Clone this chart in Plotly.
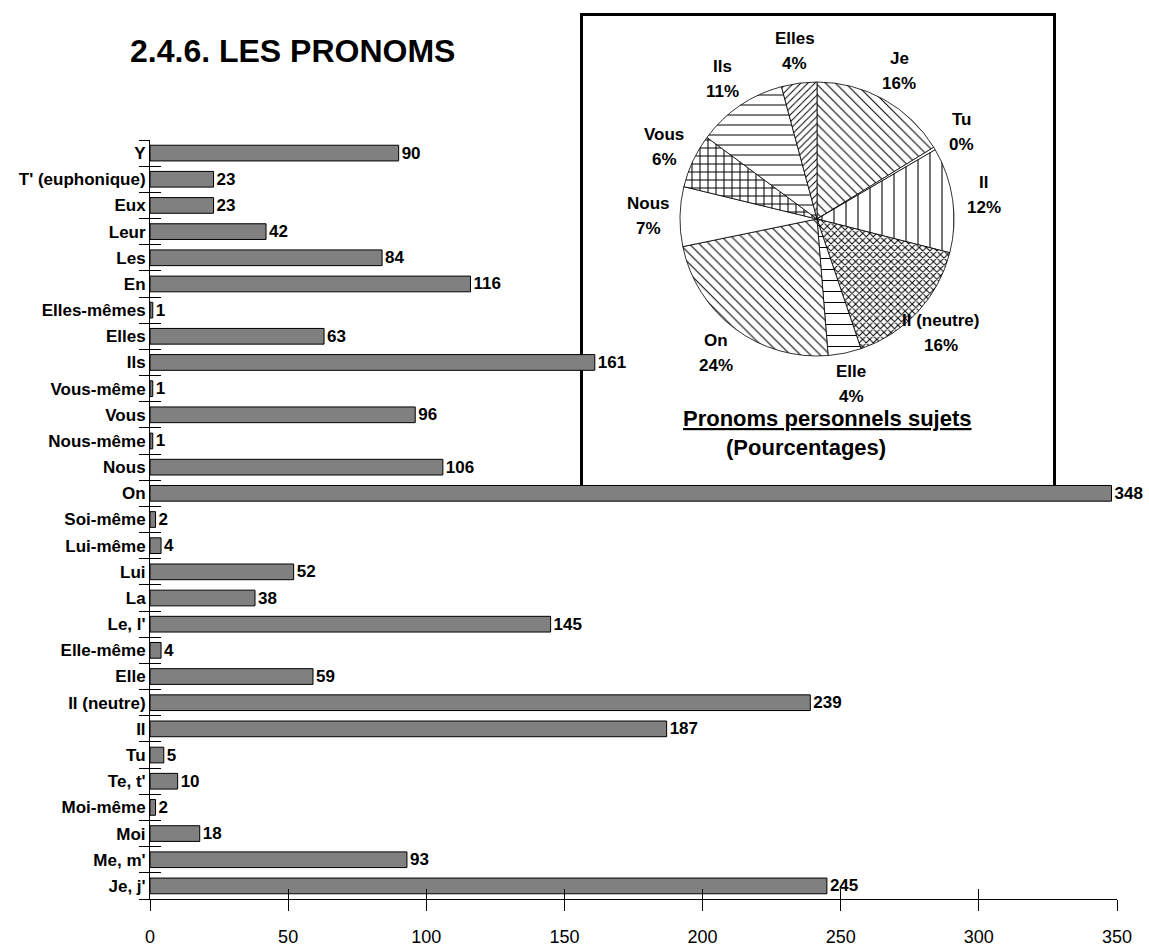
import math
import plotly.graph_objects as go

# ---- Bar chart data (bottom -> top) ----
categories = ["Je, j'", "Me, m'", "Moi", "Moi-même", "Te, t'", "Tu", "Il", "Il (neutre)",
              "Elle", "Elle-même", "Le, l'", "La", "Lui", "Lui-même", "Soi-même", "On",
              "Nous", "Nous-même", "Vous", "Vous-même", "Ils", "Elles", "Elles-mêmes",
              "En", "Les", "Leur", "Eux", "T' (euphonique)", "Y"]
values = [245, 93, 18, 2, 10, 5, 187, 239, 59, 4, 145, 38, 52, 4, 2, 348,
          106, 1, 96, 1, 161, 63, 1, 116, 84, 42, 23, 23, 90]

x_ticks = [0, 50, 100, 150, 200, 250, 300, 350]

# ---- Pie data ----
pie_labels = ["Je", "Tu", "Il", "Il (neutre)", "Elle", "On", "Nous", "Vous", "Ils", "Elles"]
pie_values = [245, 5, 187, 239, 59, 348, 106, 96, 161, 63]
pie_pct = ["16%", "0%", "12%", "16%", "4%", "24%", "7%", "6%", "11%", "4%"]

pat_shapes = ["\\", "", "|", "x", "-", "\\", "", "+", "-", "/"]
pat_sizes = [7, 6, 12, 5, 11, 7, 6, 8, 10, 5]
pat_solid = [0.15, 0.2, 0.09, 0.36, 0.09, 0.15, 0.2, 0.24, 0.1, 0.2]

FONT = "Liberation Sans, Arial, sans-serif"

W, H = 1149, 946
L, R, T, B = 150, 32, 13, 47
PW = W - L - R
PH = H - T - B

PIE_CX, PIE_CY, PIE_R = 817, 219, 137
LABEL_DIST = 1.23


def px(x):
    return (x - L) / PW


def py(y):
    return (H - B - y) / PH


fig = go.Figure()

fig.add_trace(go.Bar(
    x=values, y=categories, orientation="h",
    marker=dict(color="#808080", line=dict(color="black", width=1)),
    text=values, textposition="outside", constraintext="none", cliponaxis=False,
    textfont=dict(family=FONT, size=17, color="black", weight="bold"),
    hoverinfo="skip", showlegend=False,
))

# invisible trace so the overlay axes (inner tick marks) are drawn
fig.add_trace(go.Scatter(x=[0], y=[0], xaxis="x2", yaxis="y2", mode="markers",
                         marker=dict(opacity=0), hoverinfo="skip", showlegend=False))

fig.add_trace(go.Pie(
    labels=pie_labels, values=pie_values, textinfo="none",
    sort=False, direction="clockwise", rotation=0,
    marker=dict(colors=["white"] * len(pie_labels),
                line=dict(color="black", width=0.8),
                pattern=dict(shape=pat_shapes, size=pat_sizes, solidity=pat_solid,
                             fgcolor="black", bgcolor="white", fillmode="replace")),
    domain=dict(x=[px(PIE_CX - PIE_R), px(PIE_CX + PIE_R)],
                y=[py(PIE_CY + PIE_R), py(PIE_CY - PIE_R)]),
    showlegend=False, hoverinfo="skip",
))

# pie labels placed at each slice's mid-angle (computed from the values)
annotations = []
total = sum(pie_values)
cum = 0
lab_font = dict(family=FONT, size=17, color="black", weight="bold")
for lab, v, pct in zip(pie_labels, pie_values, pie_pct):
    mid = (cum + v / 2) / total * 2 * math.pi
    cum += v
    lx = PIE_CX + LABEL_DIST * PIE_R * math.sin(mid)
    ly = PIE_CY - LABEL_DIST * PIE_R * math.cos(mid)
    annotations.append(dict(text=lab, xref="paper", yref="paper", x=px(lx), y=py(ly),
                            xanchor="center", yanchor="middle", yshift=13,
                            showarrow=False, font=lab_font))
    annotations.append(dict(text=pct, xref="paper", yref="paper", x=px(lx), y=py(ly),
                            xanchor="center", yanchor="middle", yshift=-12,
                            showarrow=False, font=lab_font))

annotations += [
    dict(text="2.4.6. LES PRONOMS", xref="paper", yref="paper",
         x=px(128), y=py(51), xanchor="left", yanchor="middle", showarrow=False,
         font=dict(family=FONT, size=32, color="black", weight="bold")),
    dict(text="<u>Pronoms personnels sujets</u>", xref="paper", yref="paper",
         x=px(827), y=py(419), xanchor="center", yanchor="middle", showarrow=False,
         font=dict(family=FONT, size=22, color="black", weight="bold")),
    dict(text="(Pourcentages)", xref="paper", yref="paper",
         x=px(806), y=py(447), xanchor="center", yanchor="middle", showarrow=False,
         font=dict(family=FONT, size=22, color="black", weight="bold")),
]

ytop = py(140)
ncat = len(categories)

fig.update_layout(
    width=W, height=H,
    margin=dict(l=L, r=R, t=T, b=B),
    paper_bgcolor="white", plot_bgcolor="white",
    bargap=0.4,
    font=dict(family=FONT, color="black"),
    xaxis=dict(range=[0, 350], tickvals=x_ticks, ticks="outside", ticklen=11,
               tickcolor="black", showline=True, linecolor="black", linewidth=1,
               showgrid=False, zeroline=False, ticklabelstandoff=10,
               tickfont=dict(family=FONT, size=18, color="black"), automargin=False,
               fixedrange=True),
    xaxis2=dict(overlaying="x", anchor="y2", side="bottom", range=[0, 350],
                tickvals=x_ticks, ticks="inside", ticklen=10, tickcolor="black",
                showticklabels=False, showgrid=False, zeroline=False, showline=False,
                fixedrange=True),
    yaxis=dict(type="category", categoryorder="array", categoryarray=categories,
               range=[-0.5, ncat - 0.5], domain=[0, ytop],
               tickson="boundaries", ticks="outside", ticklen=10, tickcolor="black",
               showline=True, linecolor="black", linewidth=1, showgrid=False,
               tickfont=dict(family=FONT, size=17, color="black", weight="bold"),
               automargin=False, fixedrange=True),
    yaxis2=dict(overlaying="y", anchor="x2", side="left",
                range=[-0.5, ncat - 0.5], tickmode="linear", tick0=-0.5,
                dtick=1, ticks="inside", ticklen=11, tickcolor="black",
                showticklabels=False, showgrid=False, zeroline=False, showline=False,
                fixedrange=True),
    shapes=[dict(type="rect", xref="paper", yref="paper",
                 x0=px(581.5), x1=px(1054.5), y0=py(487), y1=py(14.5),
                 line=dict(color="black", width=3), fillcolor="white", layer="below")],
    annotations=annotations,
)

fig.write_html("out.html", config={"displayModeBar": False},
               post_script="document.body.style.margin='0';")
